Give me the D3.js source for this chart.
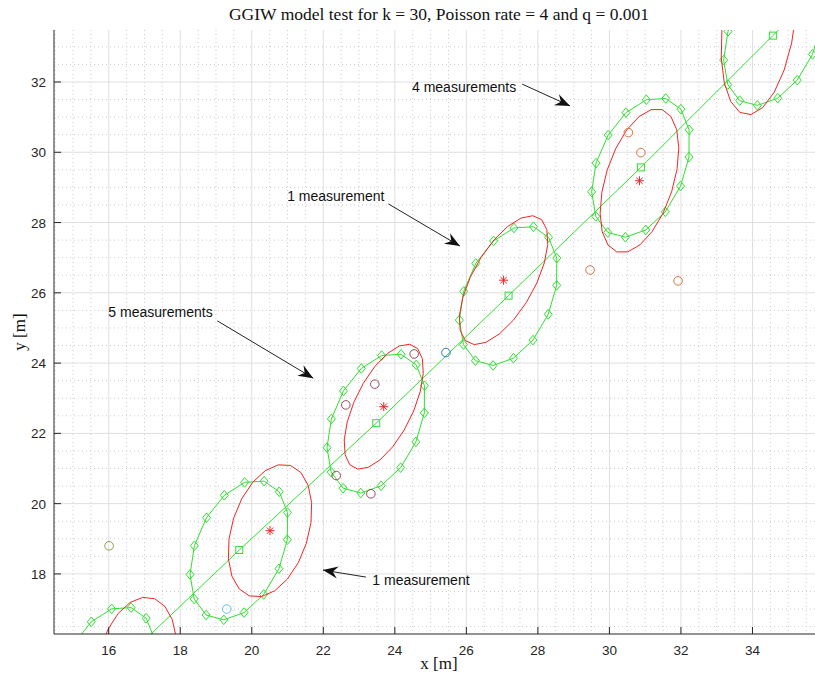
<!DOCTYPE html>
<html>
<head>
<meta charset="utf-8">
<script src="https://cdn.jsdelivr.net/npm/d3@7"></script>
<style>
body { margin: 0; background: #fff; }
svg { display: block; }
</style>
</head>
<body>
<div id="chart"></div>
<script>
// true track: centres of the target per time step
var trueX = [15.93, 19.65, 23.48, 27.18, 30.88, 34.57, 38.27]
var trueY = [15.08, 18.68, 22.29, 25.92, 29.57, 33.32, 37.02]
// true extent matrix [xx, xy, yy]
var trueExtent = [1.895, 0.972, 3.956]
var trueShown = [0, 1, 2, 3, 4, 5]

// GGIW estimates
var estX = [16.78, 20.51, 23.69, 27.04, 30.84, 34.18]
var estY = [15.49, 19.23, 22.76, 26.36, 29.19, 33.71]
var estExtent = [
  [1.25, 0.50, 3.42],
  [1.37, 0.71, 3.57],
  [1.23, 1.19, 3.17],
  [1.54, 1.43, 3.37],
  [1.21, 1.00, 4.20],
  [1.12, 0.82, 7.00]
]

// measurements, grouped by scan
var measX = [16.01, 19.30, 24.54, 23.44, 22.63, 22.36, 23.33, 25.43, 30.53, 30.88, 29.46, 31.92]
var measY = [18.80, 17.00, 24.26, 23.40, 22.81, 20.80, 20.28, 24.30, 30.56, 29.99, 26.65, 26.34]
var measScan = [0, 1, 2, 2, 2, 2, 2, 3, 4, 4, 4, 4]
var scanColors = ["#8f9d4f", "#62bdec", "#9a4a5b", "#2a7cc0", "#dc7445"]

var xTicks = [16, 18, 20, 22, 24, 26, 28, 30, 32, 34, 36]
var yTicks = [18, 20, 22, 24, 26, 28, 30, 32]

var noteText = ["4 measurements", "1 measurement", "5 measurements", "1 measurement"]
var noteTextX = [24.48, 20.99, 15.99, 23.37]
var noteTextY = [31.86, 28.76, 25.45, 17.83]
var arrowX0 = [27.56, 23.82, 19.04, 23.19]
var arrowY0 = [31.94, 28.53, 25.20, 17.91]
var arrowX1 = [28.90, 25.82, 21.72, 21.99]
var arrowY1 = [31.32, 27.33, 23.57, 18.11]

var W = 815, H = 679
var pLeft = 54, pRight = 824, pTop = 30, pBottom = 634
var green = "#2fe02f", red = "#f22424", axisColor = "#262626"

var x = d3.scaleLinear().domain([14.47, 36]).range([pLeft, pRight])
var y = d3.scaleLinear().domain([16.29, 33.48]).range([pBottom, pTop])

var svg = d3
  .select("#chart")
  .append("svg")
  .attr("width", W)
  .attr("height", H)

svg.append("defs")
  .append("clipPath")
  .attr("id", "plot-clip")
  .append("rect")
  .attr("x", pLeft)
  .attr("y", pTop)
  .attr("width", pRight - pLeft)
  .attr("height", pBottom - pTop)

/* ------- GRID -------*/
var minorX = d3.range(14.5, 36.01, 0.5).filter(function(v) { return v % 2 !== 0 })
var minorY = d3.range(16.5, 33.49, 0.5).filter(function(v) { return v % 2 !== 0 })

var grid = svg.append("g").attr("class", "grid")
grid.selectAll("line.minor-x").data(minorX).enter().append("line")
  .attr("x1", function(d) { return x(d) }).attr("x2", function(d) { return x(d) })
  .attr("y1", pTop).attr("y2", pBottom)
  .attr("stroke", "#cdcdcd").attr("stroke-dasharray", "1,3")
grid.selectAll("line.minor-y").data(minorY).enter().append("line")
  .attr("y1", function(d) { return y(d) }).attr("y2", function(d) { return y(d) })
  .attr("x1", pLeft).attr("x2", pRight)
  .attr("stroke", "#cdcdcd").attr("stroke-dasharray", "1,3")
grid.selectAll("line.major-x").data(xTicks).enter().append("line")
  .attr("x1", function(d) { return x(d) }).attr("x2", function(d) { return x(d) })
  .attr("y1", pTop).attr("y2", pBottom)
  .attr("stroke", "#dfdfdf")
grid.selectAll("line.major-y").data(yTicks).enter().append("line")
  .attr("y1", function(d) { return y(d) }).attr("y2", function(d) { return y(d) })
  .attr("x1", pLeft).attr("x2", pRight)
  .attr("stroke", "#dfdfdf")

/* ------- ELLIPSES -------*/
// symmetric square root of a 2x2 extent matrix
function sqrtm(m) {
  var s = Math.sqrt(m[0] * m[2] - m[1] * m[1])
  var t = Math.sqrt(m[0] + m[2] + 2 * s)
  return [(m[0] + s) / t, m[1] / t, (m[2] + s) / t]
}

function ellipse(cx, cy, m, n) {
  var r = sqrtm(m)
  return d3.range(n + 1).map(function(k) {
    var a = 2 * Math.PI * k / n
    return [cx + r[0] * Math.cos(a) + r[1] * Math.sin(a), cy + r[1] * Math.cos(a) + r[2] * Math.sin(a)]
  })
}

var line = d3.line()
  .x(function(d) { return x(d[0]) })
  .y(function(d) { return y(d[1]) })

var plot = svg.append("g").attr("clip-path", "url(#plot-clip)")

plot.append("path")
  .attr("d", line(trueX.map(function(v, i) { return [v, trueY[i]] })))
  .attr("fill", "none").attr("stroke", green)

var diamond = "M0,-4.8L4,0L0,4.8L-4,0Z"

trueShown.forEach(function(i) {
  var pts = ellipse(trueX[i], trueY[i], trueExtent, 15)
  plot.append("path")
    .attr("d", line(pts))
    .attr("fill", "none").attr("stroke", green)
  plot.selectAll(null).data(pts.slice(0, 15)).enter().append("path")
    .attr("d", diamond)
    .attr("transform", function(d) { return "translate(" + x(d[0]) + "," + y(d[1]) + ")" })
    .attr("fill", "none").attr("stroke", green)
  plot.append("rect")
    .attr("x", x(trueX[i]) - 3.5).attr("y", y(trueY[i]) - 3.5)
    .attr("width", 7).attr("height", 7)
    .attr("fill", "none").attr("stroke", green)
})

estX.forEach(function(v, i) {
  plot.append("path")
    .attr("d", line(ellipse(v, estY[i], estExtent[i], 20)))
    .attr("fill", "none").attr("stroke", red)
  plot.append("path")
    .attr("d", "M-4.5,0H4.5M0,-4.5V4.5M-3.2,-3.2L3.2,3.2M-3.2,3.2L3.2,-3.2")
    .attr("transform", "translate(" + x(v) + "," + y(estY[i]) + ")")
    .attr("fill", "none").attr("stroke", red)
})

plot.selectAll("circle.meas").data(measX).enter().append("circle")
  .attr("cx", function(d) { return x(d) })
  .attr("cy", function(d, i) { return y(measY[i]) })
  .attr("r", 4.3)
  .attr("fill", "none")
  .attr("stroke", function(d, i) { return scanColors[measScan[i]] })

/* ------- AXES -------*/
var axes = svg.append("g").attr("font-family", "'Liberation Sans', Arial, sans-serif")
  .attr("font-size", 13.5).attr("fill", axisColor)

axes.append("line").attr("x1", pLeft).attr("x2", pRight).attr("y1", pBottom).attr("y2", pBottom)
  .attr("stroke", axisColor)
axes.append("line").attr("x1", pLeft).attr("x2", pLeft).attr("y1", pTop).attr("y2", pBottom)
  .attr("stroke", axisColor)

axes.selectAll("line.xt").data(xTicks).enter().append("line")
  .attr("x1", function(d) { return x(d) }).attr("x2", function(d) { return x(d) })
  .attr("y1", pBottom).attr("y2", pBottom - 7).attr("stroke", axisColor)
axes.selectAll("text.xt").data(xTicks).enter().append("text")
  .attr("x", function(d) { return x(d) }).attr("y", pBottom + 21)
  .attr("text-anchor", "middle")
  .text(function(d) { return d })

axes.selectAll("line.yt").data(yTicks).enter().append("line")
  .attr("y1", function(d) { return y(d) }).attr("y2", function(d) { return y(d) })
  .attr("x1", pLeft).attr("x2", pLeft + 7).attr("stroke", axisColor)
axes.selectAll("text.yt").data(yTicks).enter().append("text")
  .attr("x", pLeft - 8).attr("y", function(d) { return y(d) + 5 })
  .attr("text-anchor", "end")
  .text(function(d) { return d })

svg.append("text")
  .attr("x", (pLeft + pRight) / 2).attr("y", 20)
  .attr("text-anchor", "middle")
  .attr("font-family", "'Liberation Serif', 'Times New Roman', serif")
  .attr("font-size", 17.5).attr("fill", "#111")
  .text("GGIW model test for k = 30, Poisson rate = 4 and q = 0.001")

svg.append("text")
  .attr("x", (pLeft + pRight) / 2).attr("y", 669)
  .attr("text-anchor", "middle")
  .attr("font-family", "'Liberation Serif', 'Times New Roman', serif")
  .attr("font-size", 17).attr("fill", "#111")
  .text("x [m]")

svg.append("text")
  .attr("transform", "translate(25," + (pTop + pBottom) / 2 + ") rotate(-90)")
  .attr("text-anchor", "middle")
  .attr("font-family", "'Liberation Serif', 'Times New Roman', serif")
  .attr("font-size", 17).attr("fill", "#111")
  .text("y [m]")

/* ------- ANNOTATIONS -------*/
var notes = svg.append("g")
noteText.forEach(function(t, i) {
  notes.append("text")
    .attr("x", x(noteTextX[i])).attr("y", y(noteTextY[i]) + 5)
    .attr("font-family", "'Liberation Sans', Arial, sans-serif")
    .attr("font-size", 14).attr("fill", "#111")
    .text(t)
  var x0 = x(arrowX0[i]), y0 = y(arrowY0[i]), x1 = x(arrowX1[i]), y1 = y(arrowY1[i])
  var ang = Math.atan2(y1 - y0, x1 - x0) * 180 / Math.PI
  notes.append("line")
    .attr("x1", x0).attr("y1", y0).attr("x2", x1).attr("y2", y1)
    .attr("stroke", "#222").attr("stroke-width", 1)
  notes.append("path")
    .attr("d", "M0,0L-15,-6L-10,0L-15,6Z")
    .attr("transform", "translate(" + x1 + "," + y1 + ") rotate(" + ang + ")")
    .attr("fill", "#111")
})
</script>
</body>
</html>
